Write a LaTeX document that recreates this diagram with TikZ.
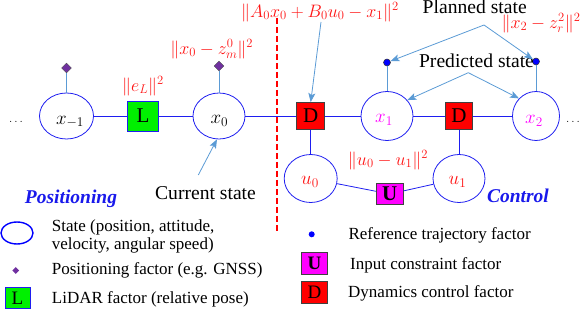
\RequirePackage{fix-cm}
\documentclass[tikz,border=0pt]{standalone}
\usepackage{fontspec}
\setmainfont{Liberation Serif}
\usetikzlibrary{shapes.geometric,arrows.meta}
\definecolor{stblue}{RGB}{30,30,240}
\definecolor{ltblue}{RGB}{91,155,213}
\definecolor{lblred}{RGB}{255,20,20}
\definecolor{sepred}{RGB}{255,0,0}
\definecolor{mag}{RGB}{255,0,255}
\definecolor{purp}{RGB}{112,48,160}
\definecolor{grn}{RGB}{0,240,0}
\definecolor{ttlblue}{RGB}{25,25,235}
\tikzset{
  state/.style={ellipse, draw=stblue, line width=0.8pt, inner sep=0pt},
  link/.style={draw=stblue, line width=0.8pt},
  pin/.style={draw=ltblue, line width=0.8pt},
  pointer/.style={draw=ltblue, line width=0.8pt, -{Stealth[length=9pt,width=7pt,inset=2pt]}},
  nlab/.style={inner sep=0pt, font=\fontsize{19}{22}\selectfont},
  mlab/.style={inner sep=0pt, text=lblred, font=\fontsize{18}{21}\selectfont},
  bigtxt/.style={inner sep=0pt, font=\fontsize{19.6}{23}\selectfont},
  ttl/.style={inner sep=0pt, text=ttlblue, font=\fontsize{19.5}{23}\selectfont\bfseries\itshape},
  legtxt/.style={inner sep=0pt, anchor=base west, font=\fontsize{17}{19}\selectfont},
  lbox/.style={rectangle, fill=grn, draw=stblue, line width=0.8pt, inner sep=0pt, font=\fontsize{21}{22}\selectfont},
  dbox/.style={rectangle, fill=red, draw=black!75, line width=0.8pt, inner sep=0pt, font=\fontsize{21}{22}\selectfont},
  ubox/.style={rectangle, fill=mag, draw=black!75, line width=0.8pt, inner sep=0pt, font=\fontsize{21}{22}\selectfont\bfseries},
  gfac/.style={diamond, fill=purp, draw=black!70, line width=0.4pt, inner sep=0pt, minimum width=10pt, minimum height=10pt},
  rfac/.style={circle, fill=blue, draw=black!80, line width=0.5pt, inner sep=0pt, minimum size=7pt},
  sepline/.style={color=sepred, line width=1.2pt, dash pattern=on 6pt off 3pt},
}
\begin{document}
\begin{tikzpicture}[x=1pt,y=-1pt]
\useasboundingbox (0,0) rectangle (580,312);
% main chain
\node[state, minimum width=54pt, minimum height=46pt] (xm1) at (66.5,116) {};
\node[lbox, minimum width=31pt, minimum height=30pt] (L) at (143,116) {L};
\node[state, minimum width=52pt, minimum height=46pt] (x0) at (219,116) {};
\node[dbox, minimum width=28pt, minimum height=27pt] (D1) at (310.7,116) {D};
\node[state, minimum width=52pt, minimum height=49pt] (x1) at (387,116) {};
\node[dbox, minimum width=27pt, minimum height=27pt] (D2) at (459,116) {D};
\node[state, minimum width=47pt, minimum height=49pt] (x2) at (536,116) {};
\node[state, minimum width=53pt, minimum height=48pt] (u0) at (310.7,178.5) {};
\node[state, minimum width=52pt, minimum height=48pt] (u1) at (459,178.5) {};
\node[ubox, minimum width=27pt, minimum height=21pt] (U) at (389.7,194) {U};
% node labels
\node[nlab] (txm1) at (70,122) {$x_{-1}$};
\node[nlab] (tx0) at (219.3,121) {$x_0$};
\node[nlab, text=mag] (tx1) at (384,120) {$x_1$};
\node[nlab, text=mag] (tx2) at (534,120.5) {$x_2$};
\node[nlab, text=lblred] (tu0) at (310,182) {$u_0$};
\node[nlab, text=lblred] (tu1) at (457.5,182) {$u_1$};
\node[inner sep=0pt, anchor=base, font=\fontsize{12}{14}\selectfont] (dl) at (16,123) {$\ldots$};
\node[inner sep=0pt, anchor=base, font=\fontsize{12}{14}\selectfont] (dr) at (573,123) {$\ldots$};
% links
\draw[link] (xm1) -- (L);
\draw[link] (L) -- (x0);
\draw[link] (x0) -- (D1);
\draw[link] (D1) -- (x1);
\draw[link] (x1) -- (D2);
\draw[link] (D2) -- (x2);
\draw[link] (D1) -- (u0);
\draw[link] (D2) -- (u1);
\draw[link] (u0) -- (U);
\draw[link] (U) -- (u1);
% unary factors
\node[gfac] (gm1) at (66.5,68) {};
\node[gfac] (g0) at (219,66) {};
\node[rfac] (r1) at (387,62.5) {};
\node[rfac] (r2) at (536,61.5) {};
\draw[pin] (gm1) -- (xm1);
\draw[pin] (g0) -- (x0);
\draw[pin] (r1) -- (x1);
\draw[pin] (r2) -- (x2);
% separator
\coordinate (sepT) at (277,18);
\coordinate (sepB) at (277,232);
\draw[sepline] (sepT) -- (sepB);
% cost labels
\node[mlab] (leL) at (143,86) {$\|e_L\|^2$};
\node[mlab] (lx0) at (211.7,49) {$\|x_0-z_m^0\|^2$};
\node[mlab] (lA) at (320,12) {$\|A_0x_0+B_0u_0-x_1\|^2$};
\node[mlab] (lx2) at (541,23) {$\|x_2-z_r^2\|^2$};
\node[mlab] (lu) at (388,160) {$\|u_0-u_1\|^2$};
% annotations
\node[bigtxt, anchor=base] (planned) at (474.7,14) {Planned state};
\node[bigtxt, anchor=base] (predicted) at (476.5,68) {Predicted state};
\node[bigtxt, anchor=base] (current) at (205.5,200) {Current state};
\coordinate (aA) at (321,22);
\coordinate (pA) at (484,25);
\coordinate (pB) at (468.3,72.7);
\coordinate (cS) at (198.3,175);
\draw[pointer] (aA) -- (D1.north);
\draw[pointer] (pA) -- (r1);
\draw[pointer] (pA) -- (r2);
\draw[pointer] (pB) -- (x1.38);
\draw[pointer] (pB) -- (x2.134);
\draw[pointer] (cS) -- (x0.265);
% titles
\node[ttl, anchor=base] (pos) at (71,204) {Positioning};
\node[ttl, anchor=base] (ctl) at (518,203) {Control};
% legend left
\node[ellipse, draw=blue, line width=1.4pt, inner sep=0pt, minimum width=32pt, minimum height=22pt] (lgS) at (17,233) {};
\node[legtxt] (lgS1) at (51.7,231) {State (position, attitude,};
\node[legtxt] (lgS2) at (51.7,249.5) {velocity, angular speed)};
\node[diamond, fill=purp, inner sep=0pt, minimum width=7pt, minimum height=7pt] (lgG) at (15.7,270.5) {};
\node[legtxt] (lgGt) at (51.7,274.5) {Positioning factor (e.g. GNSS)};
\node[lbox, minimum width=25pt, minimum height=21pt, font=\fontsize{19}{20}\selectfont] (lgL) at (17.5,298) {L};
\node[legtxt] (lgLt) at (51.7,303.5) {LiDAR factor (relative pose)};
% legend right
\node[circle, fill=blue, inner sep=0pt, minimum size=6pt] (lgR) at (311.7,234.3) {};
\node[legtxt] (lgRt) at (348.3,239.5) {Reference trajectory factor};
\node[ubox, minimum width=26pt, minimum height=22pt, font=\fontsize{19}{20}\selectfont\bfseries] (lgU) at (314.5,263) {U};
\node[legtxt] (lgUt) at (350,269) {Input constraint factor};
\node[dbox, minimum width=26pt, minimum height=22pt, font=\fontsize{19}{20}\selectfont] (lgD) at (314.5,292) {D};
\node[legtxt] (lgDt) at (348,297.5) {Dynamics control factor};
\end{tikzpicture}
\end{document}
